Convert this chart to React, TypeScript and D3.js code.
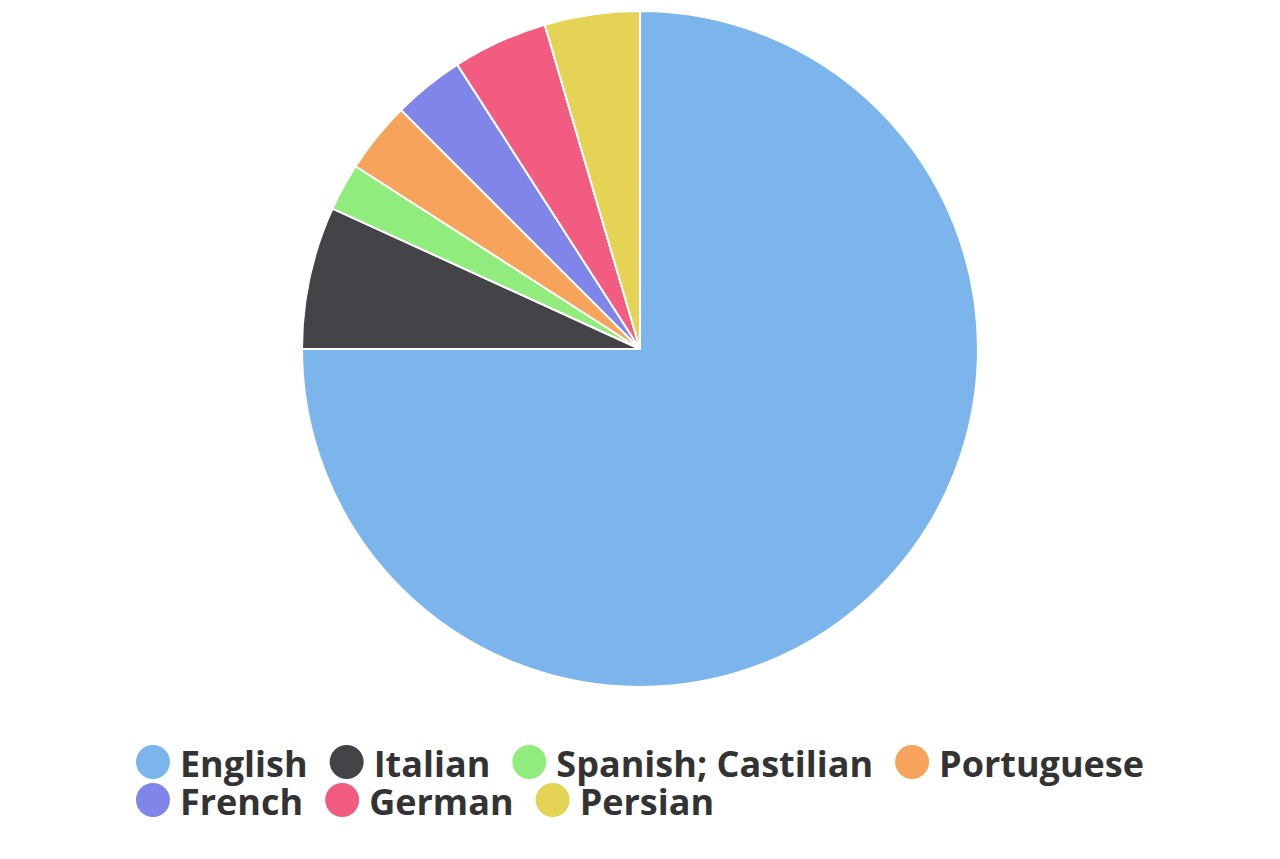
import React, { useEffect, useRef } from 'react';
import * as d3 from 'd3';

const languages = ['English', 'Italian', 'Spanish; Castilian', 'Portuguese', 'French', 'German', 'Persian'];
const counts = [66, 6, 2, 3, 3, 4, 4];
const colors = ['#7cb5ec', '#434348', '#90ed7d', '#f7a35c', '#8085e9', '#f15c80', '#e4d354'];

const App = () => {
    const svgRef = useRef<SVGSVGElement | null>(null);

    useEffect(() => {
        const svg = d3.select(svgRef.current);
        svg.selectAll('*').remove();

        const width = 1280;
        const height = 859;
        const cx = 640;
        const cy = 349;
        const radius = 338;

        const data = languages.map((name, i) => ({ name, value: counts[i], color: colors[i] }));

        const pie = d3.pie<any>().sort(null).value(d => d.value);
        const arc = d3.arc<any>().innerRadius(0).outerRadius(radius);

        const g = svg.append('g').attr('transform', `translate(${cx},${cy})`);
        g.selectAll('path')
            .data(pie(data))
            .enter()
            .append('path')
            .attr('d', arc)
            .attr('fill', d => d.data.color)
            .attr('stroke', '#ffffff')
            .attr('stroke-width', 2)
            .attr('stroke-linejoin', 'round');

        // Legend, wrapped in rows like Highcharts does it
        const fontSize = 36;
        const symbolR = 17;
        const textOffset = 44;
        const itemDistance = 22;
        const maxRowWidth = 1030;
        const rowHeight = 38;
        const legendTop = 762;

        const legend = svg.append('g');
        const items = data.map(d => {
            const item = legend.append('g');
            item.append('circle').attr('r', symbolR).attr('cx', symbolR).attr('cy', 0).attr('fill', d.color);
            const t = item.append('text')
                .attr('x', textOffset)
                .attr('y', 15)
                .style('font-family', '"Open Sans", sans-serif')
                .style('font-weight', 'bold')
                .style('font-size', `${fontSize}px`)
                .style('fill', '#333333')
                .text(d.name);
            const w = textOffset + (t.node() as SVGTextElement).getComputedTextLength();
            return { item, w };
        });

        // assign rows
        const rows: { item: any; w: number; x: number }[][] = [[]];
        let x = 0;
        items.forEach(it => {
            if (x > 0 && x + it.w > maxRowWidth) {
                rows.push([]);
                x = 0;
            }
            rows[rows.length - 1].push({ ...it, x });
            x += it.w + itemDistance;
        });
        const rowWidths = rows.map(r => {
            const last = r[r.length - 1];
            return last.x + last.w;
        });
        const legendWidth = d3.max(rowWidths) as number;
        const left = (width - legendWidth) / 2;
        rows.forEach((r, ri) => {
            r.forEach(it => {
                it.item.attr('transform', `translate(${left + it.x},${legendTop + ri * rowHeight})`);
            });
        });

        svg.attr('width', width).attr('height', height);
    }, []);

    return (
        <svg ref={svgRef} width={1280} height={859} style={{ position: 'absolute', left: 0, top: 0 }}></svg>
    );
};

export default App;
